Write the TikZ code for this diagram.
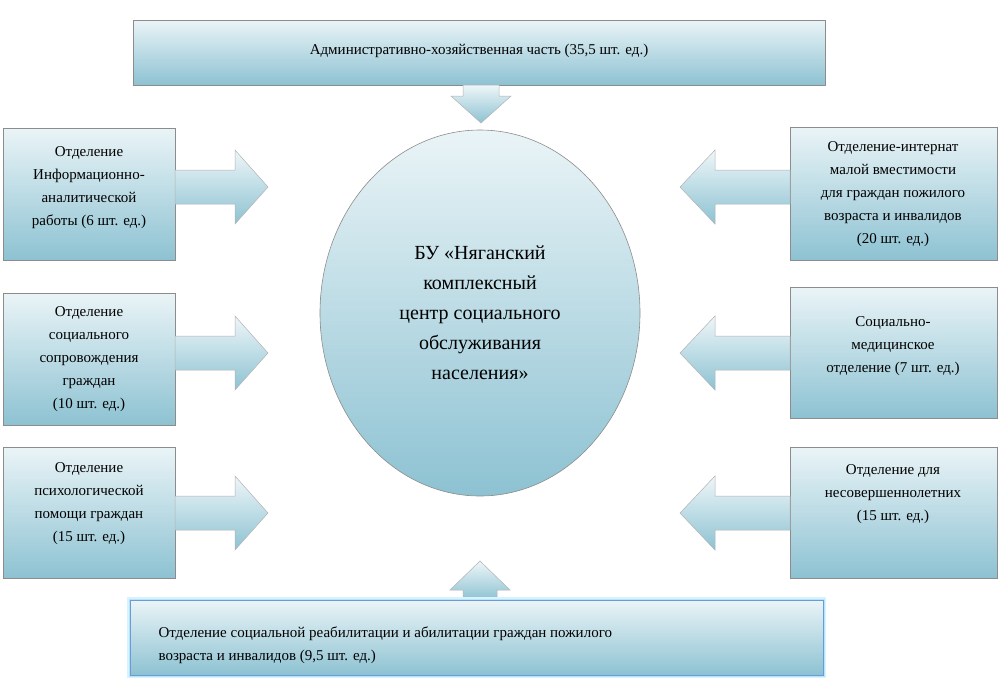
\documentclass[tikz,border=0pt]{standalone}
\usepackage{fontspec}
\setmainfont{Liberation Serif}
\begin{document}
\begin{tikzpicture}[x=1pt,y=-1pt,
  boxst/.style={draw=black!45,line width=0.6pt,top color=blue!2!cyan!4,bottom color=cyan!30!blue!10!black!10!cyan!35,shading angle=0},
  arr/.style={draw=black!30,line width=0.5pt,top color=cyan!6,bottom color=cyan!50!black!12!white!70},
  txt/.style={font=\fontsize{15}{23}\selectfont,align=center}]
\useasboundingbox (0,0) rectangle (1005,686);
\definecolor{fillA}{HTML}{EAF4F7}\definecolor{fillB}{HTML}{8DC2D2}
\tikzset{boxst/.style={draw=black!45,line width=0.6pt,top color=fillA,bottom color=fillB},
 arr/.style={draw=black!30,line width=0.5pt,top color=fillA!80!white,bottom color=fillB}}
% top box
\path[boxst] (133,20) rectangle (825,85);
\node[txt] (top) at (479,51) {Административно-хозяйственная часть (35,5 шт. ед.)};
% down arrow
\path[arr] (463,85) -- (499,85) -- (499,96) -- (511,96) -- (481,123) -- (451,96) -- (463,96) -- cycle;
% ellipse
\path[boxst] (480,313) ellipse (160 and 183);
\node[txt,font=\fontsize{20}{30}\selectfont] (c) at (480,313) {БУ «Няганский\\комплексный\\центр социального\\обслуживания\\населения»};
% left boxes
\foreach \ya/\yb/\c in {128/260/187,293/425/353,447/578/513}{
  \path[boxst] (3,\ya) rectangle (175,\yb);
  \path[arr] (175,\c-17) -- (235,\c-17) -- (235,\c-37) -- (268,\c) -- (235,\c+37) -- (235,\c+17) -- (175,\c+17) -- cycle;
}
\foreach \ya/\yb/\c in {127/260/187,287/418/353,447/578/513}{
  \path[boxst] (790,\ya) rectangle (997,\yb);
  \path[arr] (790,\c-17) -- (715,\c-17) -- (715,\c-37) -- (680,\c) -- (715,\c+37) -- (715,\c+17) -- (790,\c+17) -- cycle;
}
\node[txt] (l1) at (89,188) {Отделение\\Информационно-\\аналитической\\работы (6 шт. ед.)};
\node[txt] (l2) at (89,359) {Отделение\\социального\\сопровождения\\граждан\\(10 шт. ед.)};
\node[txt] (l3) at (89,504) {Отделение\\психологической\\помощи граждан\\(15 шт. ед.)};
\node[txt] (r1) at (893,194) {Отделение-интернат\\малой вместимости\\для граждан пожилого\\возраста и инвалидов\\(20 шт. ед.)};
\node[txt] (r2) at (893,346) {Социально-\\медицинское\\отделение (7 шт. ед.)};
\node[txt] (r3) at (893,494) {Отделение для\\несовершеннолетних\\(15 шт. ед.)};
% bottom arrow
\path[arr] (463,600) -- (463,590) -- (450,590) -- (480,561) -- (510,590) -- (497,590) -- (497,600) -- cycle;
% bottom box with glow
\draw[cyan!15,line width=6pt] (130,600) rectangle (823,675);
\draw[cyan!30,line width=3pt] (130,600) rectangle (823,675);
\path[boxst,draw=cyan!50!blue!60] (130,600) rectangle (823,675);
\node[txt,align=left,anchor=west] (b) at (155,645) {Отделение социальной реабилитации и абилитации граждан пожилого\\возраста и инвалидов (9,5 шт. ед.)};
\end{tikzpicture}
\end{document}
